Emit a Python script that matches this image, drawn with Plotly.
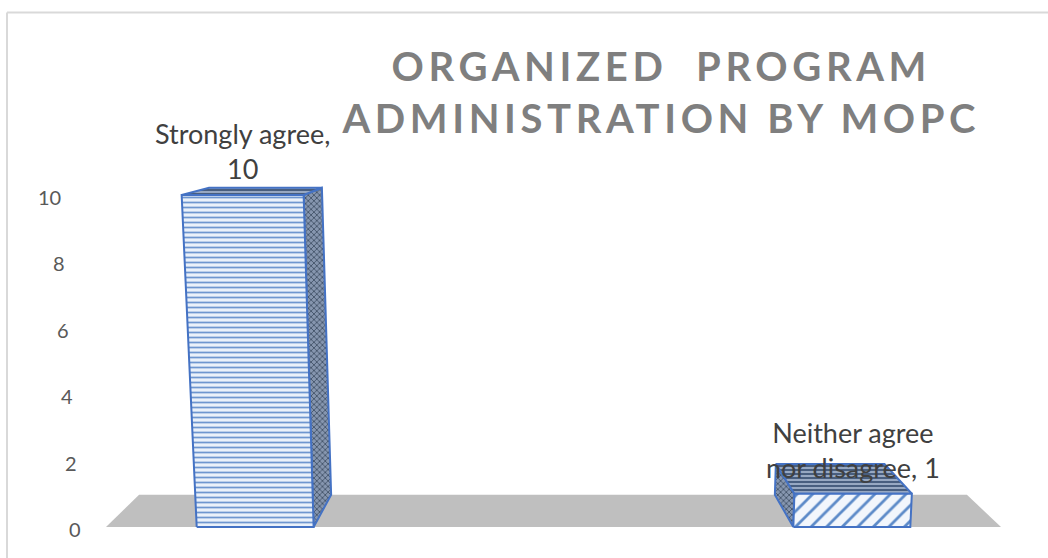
import textwrap
import plotly.graph_objects as go

# ---- chart data -------------------------------------------------------
categories = ["Strongly agree", "Agree", "Neither agree nor disagree"]
responses = [10, None, 1]
y_ticks = [0, 2, 4, 6, 8, 10]
title_lines = ["ORGANIZED  PROGRAM", "ADMINISTRATION BY MOPC"]

# ---- 3-D column geometry (category units on x, response units on y) ---
HALF = 0.196          # half width of a column front face
SHEAR_CX = 0.975      # x where the verticals converge (far below the floor)
SHEAR = 0.0043        # widening of the picture per response unit
VP_X, VP_Y = 0.978, 12.92   # depth vanishing point
DEPTH = 0.075         # how far the back faces recede toward the vanishing point
TICK_X = -0.577       # right edge of the value labels


def proj(x, v, d):
    xs = SHEAR_CX + (x - SHEAR_CX) * (1 + SHEAR * v)
    ys = v
    xs += DEPTH * d * (VP_X - xs)
    ys += DEPTH * d * (VP_Y - ys)
    return xs, ys


def face(points):
    xs, ys = [], []
    for p in points:
        x, y = proj(*p)
        xs.append(x)
        ys.append(y)
    xs.append(xs[0])
    ys.append(ys[0])
    return xs, ys


EDGE = "#4472C4"
front_styles = [
    dict(shape="-", size=5, solidity=0.35, fgcolor="#6E96CF", bgcolor="#EAF1FA"),
    None,
    dict(shape="/", size=11, solidity=0.25, fgcolor="#5C8AC8", bgcolor="#F2F6FC"),
]
top_style = dict(shape="-", size=4, solidity=0.45, fgcolor="#3F5677", bgcolor="#97A8C2")
side_style = dict(shape="x", size=4, solidity=0.4, fgcolor="#44546A", bgcolor="#8696AF")

fig = go.Figure()

# floor
n = len(categories)
fx, fy = face([(-0.5, 0, 0), (n - 0.5, 0, 0), (n - 0.5, 0, 1), (-0.5, 0, 1)])
fig.add_trace(go.Scatter(x=fx, y=fy, mode="lines", fill="toself",
                         fillcolor="#BFBFBF", line=dict(width=0),
                         hoverinfo="skip"))

annotations = []
for i, (cat, val) in enumerate(zip(categories, responses)):
    if val is None:
        continue
    x0, x1 = i - HALF, i + HALF
    faces = []
    if x1 < VP_X:
        faces.append(([(x1, 0, 0), (x1, 0, 1), (x1, val, 1), (x1, val, 0)], side_style))
    elif x0 > VP_X:
        faces.append(([(x0, 0, 0), (x0, 0, 1), (x0, val, 1), (x0, val, 0)], side_style))
    faces.append(([(x0, val, 0), (x1, val, 0), (x1, val, 1), (x0, val, 1)], top_style))
    faces.append(([(x0, 0, 0), (x1, 0, 0), (x1, val, 0), (x0, val, 0)], front_styles[i]))
    for pts, style in faces:
        xs, ys = face(pts)
        fig.add_trace(go.Scatter(
            x=xs, y=ys, mode="lines", fill="toself",
            fillcolor=style["bgcolor"],
            fillpattern=dict(fillmode="replace", **style),
            line=dict(color=EDGE, width=2), hoverinfo="skip"))

    lx, ly = proj(i, val, 0)
    label = "<br>".join(textwrap.wrap(f"{cat}, {val}", 15))
    annotations.append(dict(
        x=lx, y=ly, xref="x", yref="y", text=label, showarrow=False,
        xanchor="center", yanchor="bottom", yshift=8,
        font=dict(family="Lato", size=27, color="#404040")))

for t in y_ticks:
    tx, ty = proj(TICK_X, t, 0)
    annotations.append(dict(
        x=tx, y=ty, xref="x", yref="y", text=str(t), showarrow=False,
        xanchor="right", yanchor="middle", yshift=-2,
        font=dict(family="Lato", size=20, color="#595959")))

annotations.append(dict(
    x=0.631, y=0.836, xref="paper", yref="paper",
    text="<br>".join(title_lines), showarrow=False,
    xanchor="center", yanchor="middle",
    font=dict(family="Lato", size=40, color="#7F7F7F", weight="bold")))

# chart-area frame
frame = dict(color="#D9D9D9", width=2)
shapes = [
    dict(type="line", xref="paper", yref="paper",
         x0=7 / 1048, x1=1, y0=1 - 12.5 / 558, y1=1 - 12.5 / 558, line=frame),
    dict(type="line", xref="paper", yref="paper",
         x0=7 / 1048, x1=7 / 1048, y0=0, y1=1 - 12.5 / 558, line=frame),
]

fig.update_layout(
    width=1048, height=558,
    margin=dict(l=0, r=0, t=0, b=0),
    paper_bgcolor="white", plot_bgcolor="white",
    showlegend=False,
    xaxis=dict(visible=False, range=[-0.8553, 2.6576], fixedrange=True),
    yaxis=dict(visible=False, range=[-0.934, 15.873], fixedrange=True),
    annotations=annotations,
    shapes=shapes,
)

spacing_js = """
var gd = document.getElementById('{plot_id}');
function spaceTitle() {
  gd.querySelectorAll('text.annotation-text').forEach(function (t) {
    if (t.textContent.indexOf('MOPC') !== -1) { t.style.letterSpacing = '4.6px'; }
  });
}
spaceTitle();
gd.on('plotly_afterplot', spaceTitle);
"""

fig.write_html("out.html", post_script=spacing_js)
